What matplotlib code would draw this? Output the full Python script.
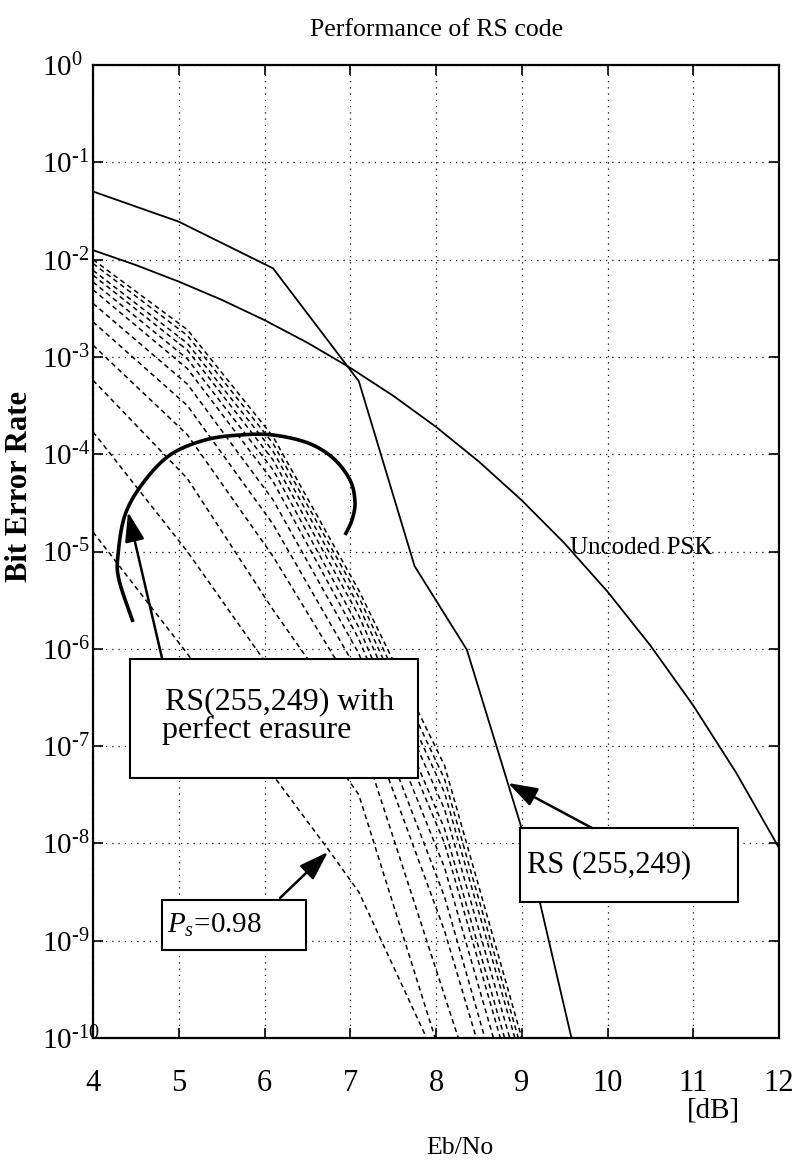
import numpy as np
import matplotlib
matplotlib.use("Agg")
import matplotlib.pyplot as plt
from matplotlib.patches import Rectangle

plt.rcParams['font.family'] = ['Liberation Serif', 'DejaVu Serif']
plt.rcParams['mathtext.fontset'] = 'custom'
plt.rcParams['mathtext.rm'] = 'Liberation Serif'
plt.rcParams['mathtext.it'] = 'Liberation Serif:italic'
plt.rcParams['mathtext.bf'] = 'Liberation Serif:bold'

# ---------------- data (log10 BER) ----------------
psk_x = [4.0, 4.5, 5.0, 5.5, 6.0, 6.5, 7.0, 7.5, 8.0, 8.5, 9.0, 9.5, 10.0, 10.5, 11.0, 11.5, 12.0]
psk_log = [-1.903, -2.056, -2.226, -2.413, -2.622, -2.854, -3.112, -3.399, -3.719,
           -4.076, -4.474, -4.917, -5.412, -5.966, -6.583, -7.273, -8.046]

rs_x = [4.0, 5.0, 6.1, 7.1, 7.75, 8.36, 8.98, 9.21, 9.58]
rs_log = [-1.30, -1.61, -2.09, -3.25, -5.15, -6.01, -7.79, -8.60, -10.0]

# RS(255,249) with perfect erasure, one curve per erasure probability (Ps=0.98 first)
er_x0 = [4.0, 5.1, 6.1, 6.75, 7.1, 7.89]
er_y0 = [-4.80, -6.05, -7.30, -8.07, -8.50, -10.0]
er_x1 = [4.0, 5.1, 6.1, 7.1, 7.99]
er_y1 = [-3.77, -5.00, -6.25, -7.50, -10.0]
er_x2 = [4.0, 5.1, 6.1, 7.1, 8.26]
er_y2 = [-3.24, -4.25, -5.60, -6.85, -10.0]
er_x3 = [4.0, 5.1, 6.1, 7.1, 8.1, 8.47]
er_y3 = [-2.88, -3.80, -5.05, -6.50, -8.90, -10.0]
er_x4 = [4.0, 5.1, 6.1, 7.1, 8.1, 8.57]
er_y4 = [-2.64, -3.50, -4.72, -6.25, -8.55, -10.0]
er_x5 = [4.0, 5.1, 6.1, 7.1, 8.1, 8.67]
er_y5 = [-2.45, -3.28, -4.47, -6.05, -8.25, -10.0]
er_x6 = [4.0, 5.1, 6.1, 7.1, 8.1, 8.75]
er_y6 = [-2.31, -3.12, -4.28, -5.90, -8.00, -10.0]
er_x7 = [4.0, 5.1, 6.1, 7.1, 8.1, 8.80]
er_y7 = [-2.23, -3.02, -4.16, -5.78, -7.85, -10.0]
er_x8 = [4.0, 5.1, 6.1, 7.1, 8.1, 8.86]
er_y8 = [-2.16, -2.93, -4.06, -5.66, -7.65, -10.0]
er_x9 = [4.0, 5.1, 6.1, 7.1, 8.1, 8.92]
er_y9 = [-2.11, -2.86, -3.97, -5.56, -7.48, -10.0]
er_x10 = [4.0, 5.1, 6.1, 7.1, 8.1, 8.96]
er_y10 = [-2.04, -2.78, -3.89, -5.47, -7.34, -10.0]
er_x11 = [4.0, 5.1, 6.1, 7.1, 8.1, 9.00]
er_y11 = [-2.00, -2.72, -3.82, -5.40, -7.20, -10.0]

erasure_curves = [(er_x0, er_y0), (er_x1, er_y1), (er_x2, er_y2), (er_x3, er_y3),
                  (er_x4, er_y4), (er_x5, er_y5), (er_x6, er_y6), (er_x7, er_y7),
                  (er_x8, er_y8), (er_x9, er_y9), (er_x10, er_y10), (er_x11, er_y11)]

x_ticks = [4, 5, 6, 7, 8, 9, 10, 11, 12]
y_exps = [0, -1, -2, -3, -4, -5, -6, -7, -8, -9, -10]

# ---------------- figure ----------------
W, H = 794, 1171
fig = plt.figure(figsize=(W / 100, H / 100), dpi=100)
AX_L, AX_R, AX_T, AX_B = 93, 779, 65, 1038
ax = fig.add_axes([AX_L / W, 1 - AX_B / H, (AX_R - AX_L) / W, (AX_B - AX_T) / H])


def px2ax(px, py):
    return ((px - AX_L) / (AX_R - AX_L), (AX_B - py) / (AX_B - AX_T))


ax.set_yscale('log')
ax.set_xlim(4, 12)
ax.set_ylim(1e-10, 1)

ax.plot(psk_x, 10.0 ** np.array(psk_log), color='black', lw=1.3)
ax.plot(rs_x, 10.0 ** np.array(rs_log), color='black', lw=1.3)
for xs, ys in erasure_curves:
    ax.plot(xs, 10.0 ** np.array(ys), color='black', lw=1.1, dashes=(3.2, 2.4))

# axes styling
for s in ax.spines.values():
    s.set_linewidth(1.6)
ax.set_xticks(x_ticks)
ax.set_xticklabels([str(t) for t in x_ticks], fontsize=22)
ax.set_yticks([10.0 ** e for e in y_exps])
ax.set_yticklabels([r'$\mathregular{10^{%d}}$' % e if e == 0 else r'$\mathregular{10^{\text{-}%d}}$' % (-e)
                    for e in y_exps], fontsize=21)
ax.yaxis.set_minor_locator(matplotlib.ticker.NullLocator())
ax.tick_params(which='major', direction='in', length=7, width=1.2, top=True, right=True)
ax.tick_params(axis='x', pad=22)
ax.tick_params(axis='y', pad=37)
for lab in ax.get_yticklabels():
    lab.set_horizontalalignment('left')
ax.grid(True, which='major', color='black', lw=0.9, linestyle=(0, (1, 4)))

# ---------------- annotations ----------------
tx, ty = px2ax(570, 548)
ax.text(tx, ty, 'Uncoded PSK', transform=ax.transAxes, fontsize=18, ha='left', va='center')

# erasure box
bl = px2ax(130, 778); tr = px2ax(418, 659)
ax.add_patch(Rectangle(bl, tr[0] - bl[0], tr[1] - bl[1], transform=ax.transAxes,
                       facecolor='white', edgecolor='black', lw=1.5, zorder=5))
p = px2ax(165, 709)
ax.text(p[0], p[1], 'RS(255,249) with', transform=ax.transAxes, fontsize=23,
        ha='left', va='baseline', zorder=6)
p = px2ax(162, 738)
ax.text(p[0], p[1], 'perfect erasure', transform=ax.transAxes, fontsize=23,
        ha='left', va='baseline', zorder=6)

# RS box
bl = px2ax(520, 902); tr = px2ax(738, 828)
ax.add_patch(Rectangle(bl, tr[0] - bl[0], tr[1] - bl[1], transform=ax.transAxes,
                       facecolor='white', edgecolor='black', lw=1.5, zorder=5))
p = px2ax(527, 865)
ax.text(p[0], p[1], 'RS (255,249)', transform=ax.transAxes, fontsize=22,
        ha='left', va='center', zorder=6)

# Ps box
bl = px2ax(162, 950); tr = px2ax(306, 900)
ax.add_patch(Rectangle(bl, tr[0] - bl[0], tr[1] - bl[1], transform=ax.transAxes,
                       facecolor='white', edgecolor='black', lw=1.5, zorder=5))
p = px2ax(167, 925)
ax.text(p[0], p[1], r'$P_s$=0.98', transform=ax.transAxes, fontsize=21,
        ha='left', va='center', zorder=6)

arrow_kw = dict(arrowstyle='-|>,head_length=0.9,head_width=0.3', mutation_scale=20,
                color='black', lw=1.8, shrinkA=0, shrinkB=0)
for (x0, y0), (x1, y1) in [((162, 658), (128, 512)),
                           ((592, 828), (508, 783)),
                           ((280, 898), (328, 852))]:
    ax.annotate('', xy=px2ax(x1, y1), xycoords='axes fraction',
                xytext=px2ax(x0, y0), textcoords='axes fraction',
                arrowprops=arrow_kw, zorder=7)

# curved bracket
arc_px = [(133, 622), (119, 580), (118, 555), (125, 515), (143, 483), (170, 455),
          (205, 440), (240, 435), (273, 435), (308, 443), (333, 458), (350, 480),
          (355, 502), (352, 520), (345, 535)]


def catmull(pts, n=20):
    P = np.asarray(pts, float)
    P = np.vstack([P[0], P, P[-1]])
    out = []
    t = np.linspace(0, 1, n, endpoint=False)[:, None]
    for i in range(1, len(P) - 2):
        p0, p1, p2, p3 = P[i - 1], P[i], P[i + 1], P[i + 2]
        out.append(0.5 * (2 * p1 + (-p0 + p2) * t + (2 * p0 - 5 * p1 + 4 * p2 - p3) * t ** 2
                          + (-p0 + 3 * p1 - 3 * p2 + p3) * t ** 3))
    out.append(P[-2][None])
    return np.vstack(out)


arc = catmull([px2ax(a, b) for a, b in arc_px])
ax.plot(arc[:, 0], arc[:, 1], transform=ax.transAxes, color='black', lw=2.6,
        solid_capstyle='butt', zorder=4)

# titles / labels
fig.text(437 / W, 1 - 30 / H, 'Performance of RS code', ha='center', va='center', fontsize=18.5)
fig.text(20 / W, 1 - 487 / H, 'Bit Error Rate', ha='center', va='center', rotation=90,
         fontsize=22, fontweight='bold')
fig.text(713 / W, 1 - 1110 / H, '[dB]', ha='center', va='center', fontsize=21)
fig.text(460 / W, 1 - 1148 / H, 'Eb/No', ha='center', va='center', fontsize=18.5)

fig.savefig('out.png', dpi=100)
